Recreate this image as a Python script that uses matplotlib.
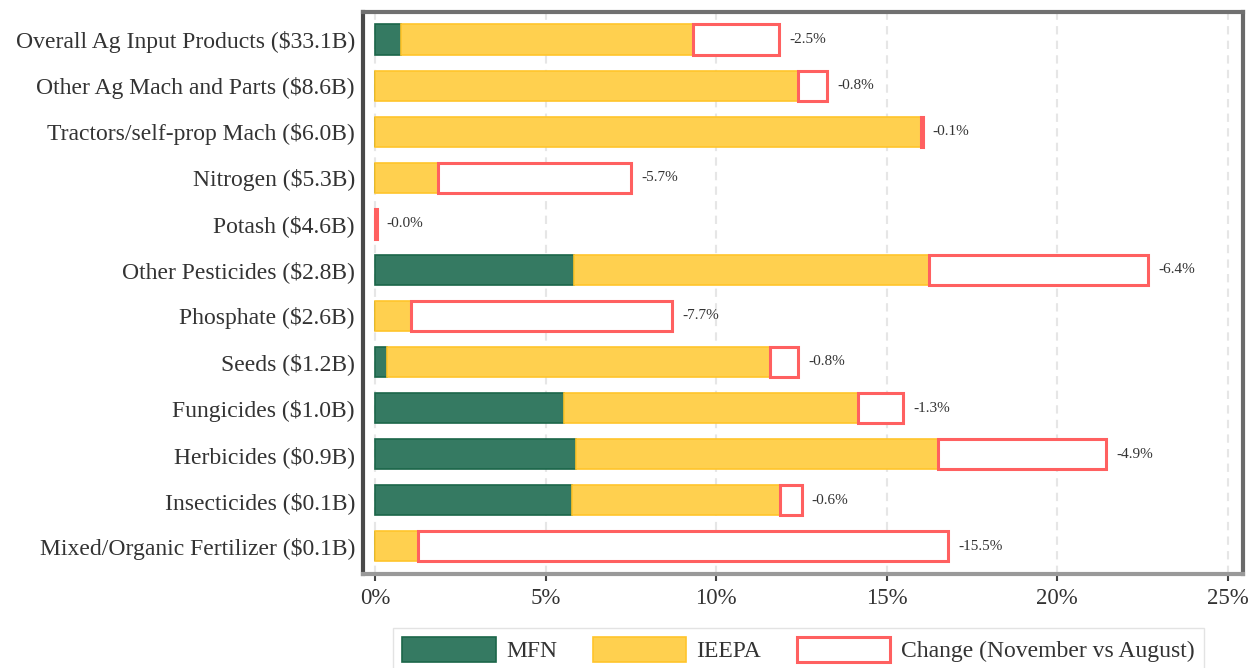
import matplotlib
matplotlib.use("Agg")
import matplotlib.pyplot as plt
from matplotlib.patches import Patch
import numpy as np

categories = [
    "Overall Ag Input Products ($33.1B)",
    "Other Ag Mach and Parts ($8.6B)",
    "Tractors/self-prop Mach ($6.0B)",
    "Nitrogen ($5.3B)",
    "Potash ($4.6B)",
    "Other Pesticides ($2.8B)",
    "Phosphate ($2.6B)",
    "Seeds ($1.2B)",
    "Fungicides ($1.0B)",
    "Herbicides ($0.9B)",
    "Insecticides ($0.1B)",
    "Mixed/Organic Fertilizer ($0.1B)",
]
mfn = [0.76, 0.0, 0.0, 0.0, 0.0, 5.83, 0.0, 0.35, 5.53, 5.89, 5.77, 0.0]
ieepa = [8.55, 12.39, 15.99, 1.84, 0.0, 10.42, 1.05, 11.22, 8.64, 10.60, 6.09, 1.26]
change = [-2.54, -0.85, -0.06, -5.66, -0.04, -6.41, -7.65, -0.82, -1.32, -4.94, -0.64, -15.54]
xticks = [0, 5, 10, 15, 20, 25]
xticklabels = ["0%", "5%", "10%", "15%", "20%", "25%"]

plt.rcParams['font.family'] = ['Liberation Serif', 'DejaVu Serif']

GREEN = "#357a62"
GREEN_EDGE = "#1b6649"
YELLOW = "#ffd04f"
YELLOW_EDGE = "#ffc52b"
RED = "#ff6060"
TEXT = "#333333"

fig = plt.figure(figsize=(12.57, 6.68), dpi=100)
ax = fig.add_axes([0.289, 0.141, 0.700, 0.841])

y = np.arange(len(categories))
h = 0.66
mfn = np.array(mfn)
ieepa = np.array(ieepa)
change = np.array(change)
total = mfn + ieepa

ax.barh(y, mfn, height=h, color=GREEN, edgecolor=GREEN_EDGE, linewidth=1.2, zorder=3)
ax.barh(y, ieepa, left=mfn, height=h, color=YELLOW, edgecolor=YELLOW_EDGE, linewidth=1.2, zorder=3)
ax.barh(y, -change, left=total, height=h, facecolor="white", edgecolor=RED, linewidth=2.2, zorder=4)

for yi, t, c in zip(y, total, change):
    ax.text(t - c + 0.3, yi, f"{c:.1f}%", va="center", ha="left", fontsize=11, color=TEXT, zorder=5)

ax.set_yticks(y)
ax.set_yticklabels(categories, fontsize=17, color=TEXT)
ax.set_ylim(len(categories) - 0.4, -0.6)
ax.set_xlim(-0.35, 25.45)
ax.set_xticks(xticks)
ax.set_xticklabels(xticklabels, fontsize=16.5, color=TEXT)
ax.tick_params(axis="y", length=0, pad=6)
ax.tick_params(axis="x", length=5, width=1.5, color="#444444", pad=5)

ax.grid(axis="x", linestyle=(0, (4, 3)), color="#e6e6e6", linewidth=1.5, zorder=0)
ax.set_axisbelow(True)
for side, col in [("left", "#4a4a4a"), ("top", "#707070"), ("right", "#6a6a6a"), ("bottom", "#999999")]:
    ax.spines[side].set_color(col)
    ax.spines[side].set_linewidth(3)

handles = [
    Patch(facecolor=GREEN, edgecolor=GREEN_EDGE, linewidth=1.2, label="MFN"),
    Patch(facecolor=YELLOW, edgecolor=YELLOW_EDGE, linewidth=1.2, label="IEEPA"),
    Patch(facecolor="white", edgecolor=RED, linewidth=2.2, label="Change (November vs August)"),
]
leg = fig.legend(handles=handles, loc="upper center", bbox_to_anchor=(0.635, 0.06), ncol=3,
                 fontsize=17, frameon=True, fancybox=False, edgecolor="#dddddd",
                 handlelength=3.95, handleheight=1.2, columnspacing=1.5, handletextpad=0.45,
                 borderpad=0.4, borderaxespad=0)
for t in leg.get_texts():
    t.set_color(TEXT)

fig.savefig("out.png", dpi=100)
